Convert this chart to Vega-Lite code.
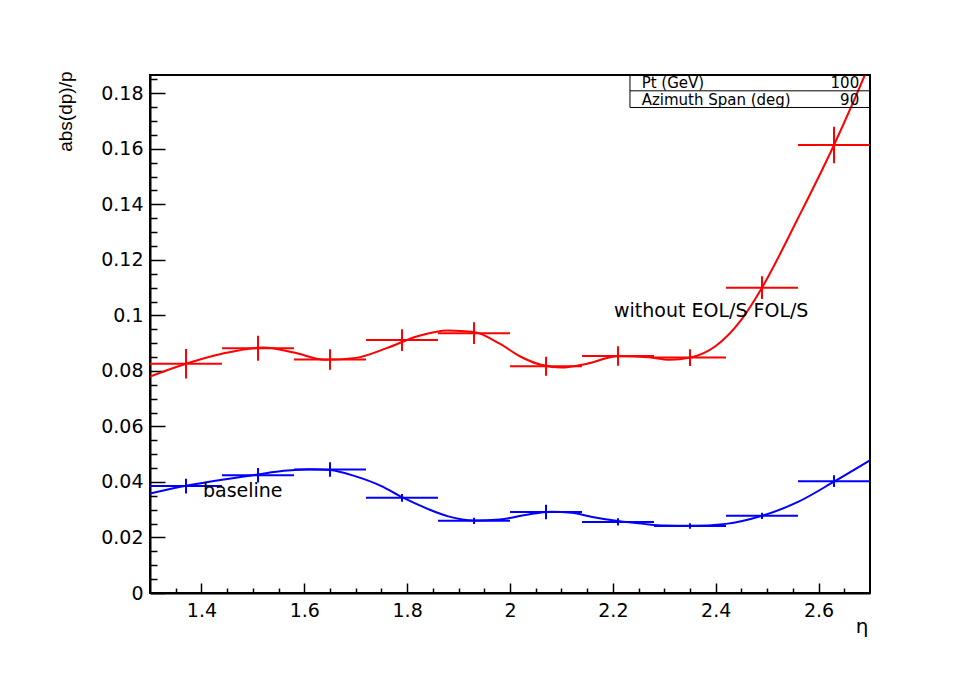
{
  "$schema": "https://vega.github.io/schema/vega-lite/v6.json",
  "width": 720,
  "height": 518,
  "autosize": {"type": "none"},
  "padding": {"left": 150, "top": 75, "right": 85, "bottom": 101},
  "background": "white",
  "datasets": {
    "curves": [
      {"s": "without EOL/S FOL/S", "eta": 1.30, "val": 0.0780},
      {"s": "without EOL/S FOL/S", "eta": 1.37, "val": 0.0826},
      {"s": "without EOL/S FOL/S", "eta": 1.44, "val": 0.0862},
      {"s": "without EOL/S FOL/S", "eta": 1.52, "val": 0.0884},
      {"s": "without EOL/S FOL/S", "eta": 1.58, "val": 0.0866},
      {"s": "without EOL/S FOL/S", "eta": 1.64, "val": 0.0840},
      {"s": "without EOL/S FOL/S", "eta": 1.70, "val": 0.0847},
      {"s": "without EOL/S FOL/S", "eta": 1.76, "val": 0.0882},
      {"s": "without EOL/S FOL/S", "eta": 1.82, "val": 0.0925},
      {"s": "without EOL/S FOL/S", "eta": 1.88, "val": 0.0946},
      {"s": "without EOL/S FOL/S", "eta": 1.93, "val": 0.0940},
      {"s": "without EOL/S FOL/S", "eta": 1.98, "val": 0.0898},
      {"s": "without EOL/S FOL/S", "eta": 2.02, "val": 0.0852},
      {"s": "without EOL/S FOL/S", "eta": 2.06, "val": 0.0822},
      {"s": "without EOL/S FOL/S", "eta": 2.10, "val": 0.0812},
      {"s": "without EOL/S FOL/S", "eta": 2.15, "val": 0.0826},
      {"s": "without EOL/S FOL/S", "eta": 2.21, "val": 0.0853},
      {"s": "without EOL/S FOL/S", "eta": 2.27, "val": 0.0849},
      {"s": "without EOL/S FOL/S", "eta": 2.31, "val": 0.0840},
      {"s": "without EOL/S FOL/S", "eta": 2.35, "val": 0.0848},
      {"s": "without EOL/S FOL/S", "eta": 2.40, "val": 0.0890},
      {"s": "without EOL/S FOL/S", "eta": 2.45, "val": 0.0985},
      {"s": "without EOL/S FOL/S", "eta": 2.49, "val": 0.1100},
      {"s": "without EOL/S FOL/S", "eta": 2.56, "val": 0.1350},
      {"s": "without EOL/S FOL/S", "eta": 2.63, "val": 0.1614},
      {"s": "without EOL/S FOL/S", "eta": 2.69, "val": 0.1866},
      {"s": "without EOL/S FOL/S", "eta": 2.70, "val": 0.1910},
      {"s": "baseline", "eta": 1.30, "val": 0.0358},
      {"s": "baseline", "eta": 1.37, "val": 0.0386},
      {"s": "baseline", "eta": 1.44, "val": 0.0408},
      {"s": "baseline", "eta": 1.51, "val": 0.0427},
      {"s": "baseline", "eta": 1.56, "val": 0.0440},
      {"s": "baseline", "eta": 1.61, "val": 0.0446},
      {"s": "baseline", "eta": 1.65, "val": 0.0443},
      {"s": "baseline", "eta": 1.70, "val": 0.0420},
      {"s": "baseline", "eta": 1.75, "val": 0.0385},
      {"s": "baseline", "eta": 1.79, "val": 0.0345},
      {"s": "baseline", "eta": 1.84, "val": 0.0303},
      {"s": "baseline", "eta": 1.88, "val": 0.0276},
      {"s": "baseline", "eta": 1.93, "val": 0.0261},
      {"s": "baseline", "eta": 1.98, "val": 0.0265},
      {"s": "baseline", "eta": 2.03, "val": 0.0281},
      {"s": "baseline", "eta": 2.08, "val": 0.0293},
      {"s": "baseline", "eta": 2.12, "val": 0.0289},
      {"s": "baseline", "eta": 2.16, "val": 0.0274},
      {"s": "baseline", "eta": 2.21, "val": 0.0259},
      {"s": "baseline", "eta": 2.26, "val": 0.0249},
      {"s": "baseline", "eta": 2.30, "val": 0.0243},
      {"s": "baseline", "eta": 2.35, "val": 0.0242},
      {"s": "baseline", "eta": 2.42, "val": 0.0249},
      {"s": "baseline", "eta": 2.49, "val": 0.0278},
      {"s": "baseline", "eta": 2.56, "val": 0.0328},
      {"s": "baseline", "eta": 2.63, "val": 0.0401},
      {"s": "baseline", "eta": 2.70, "val": 0.0478}
    ],
    "points": [
      {"s": "without EOL/S FOL/S", "eta": 1.37, "lo": 1.30, "hi": 1.44, "val": 0.0826, "elo": 0.0773, "ehi": 0.0879},
      {"s": "without EOL/S FOL/S", "eta": 1.51, "lo": 1.44, "hi": 1.58, "val": 0.0882, "elo": 0.0837, "ehi": 0.0927},
      {"s": "without EOL/S FOL/S", "eta": 1.65, "lo": 1.58, "hi": 1.72, "val": 0.0841, "elo": 0.0804, "ehi": 0.0878},
      {"s": "without EOL/S FOL/S", "eta": 1.79, "lo": 1.72, "hi": 1.86, "val": 0.0911, "elo": 0.0872, "ehi": 0.0950},
      {"s": "without EOL/S FOL/S", "eta": 1.93, "lo": 1.86, "hi": 2.00, "val": 0.0936, "elo": 0.0897, "ehi": 0.0975},
      {"s": "without EOL/S FOL/S", "eta": 2.07, "lo": 2.00, "hi": 2.14, "val": 0.0817, "elo": 0.0783, "ehi": 0.0851},
      {"s": "without EOL/S FOL/S", "eta": 2.21, "lo": 2.14, "hi": 2.28, "val": 0.0854, "elo": 0.0819, "ehi": 0.0889},
      {"s": "without EOL/S FOL/S", "eta": 2.35, "lo": 2.28, "hi": 2.42, "val": 0.0848, "elo": 0.0818, "ehi": 0.0878},
      {"s": "without EOL/S FOL/S", "eta": 2.49, "lo": 2.42, "hi": 2.56, "val": 0.1100, "elo": 0.1059, "ehi": 0.1141},
      {"s": "without EOL/S FOL/S", "eta": 2.63, "lo": 2.56, "hi": 2.70, "val": 0.1614, "elo": 0.1548, "ehi": 0.1680},
      {"s": "baseline", "eta": 1.37, "lo": 1.30, "hi": 1.44, "val": 0.0385, "elo": 0.0358, "ehi": 0.0412},
      {"s": "baseline", "eta": 1.51, "lo": 1.44, "hi": 1.58, "val": 0.0424, "elo": 0.0398, "ehi": 0.0450},
      {"s": "baseline", "eta": 1.65, "lo": 1.58, "hi": 1.72, "val": 0.0445, "elo": 0.0419, "ehi": 0.0471},
      {"s": "baseline", "eta": 1.79, "lo": 1.72, "hi": 1.86, "val": 0.0343, "elo": 0.0329, "ehi": 0.0357},
      {"s": "baseline", "eta": 1.93, "lo": 1.86, "hi": 2.00, "val": 0.0260, "elo": 0.0249, "ehi": 0.0271},
      {"s": "baseline", "eta": 2.07, "lo": 2.00, "hi": 2.14, "val": 0.0292, "elo": 0.0266, "ehi": 0.0318},
      {"s": "baseline", "eta": 2.21, "lo": 2.14, "hi": 2.28, "val": 0.0256, "elo": 0.0243, "ehi": 0.0269},
      {"s": "baseline", "eta": 2.35, "lo": 2.28, "hi": 2.42, "val": 0.0241, "elo": 0.0231, "ehi": 0.0251},
      {"s": "baseline", "eta": 2.49, "lo": 2.42, "hi": 2.56, "val": 0.0278, "elo": 0.0267, "ehi": 0.0289},
      {"s": "baseline", "eta": 2.63, "lo": 2.56, "hi": 2.70, "val": 0.0403, "elo": 0.0382, "ehi": 0.0424}
    ],
    "notes": [
      {"tx": 2.2022, "ty": 0.1016, "label": "without EOL/S FOL/S"},
      {"tx": 1.403, "ty": 0.0368, "label": "baseline"}
    ],
    "box": [
      {"bx1": 2.2333, "bx2": 2.7, "by1": 0.1749, "by2": 0.1866, "div": 0.1809}
    ],
    "boxL": [
      {"tx": 2.256, "ty": 0.1836, "label": "Pt (GeV)"},
      {"tx": 2.256, "ty": 0.1776, "label": "Azimuth Span (deg)"}
    ],
    "boxR": [
      {"tx": 2.679, "ty": 0.1836, "label": "100"},
      {"tx": 2.679, "ty": 0.1776, "label": "90"}
    ]
  },
  "resolve": {"axis": {"x": "independent", "y": "independent"}},
  "layer": [
    {
      "data": {"name": "curves"},
      "mark": {"type": "line", "interpolate": "monotone", "strokeWidth": 2, "clip": true},
      "encoding": {
        "x": {
          "field": "eta", "type": "quantitative", "title": "η",
          "scale": {"domain": [1.3, 2.7], "nice": false, "zero": false},
          "axis": {
            "orient": "bottom",
            "values": [1.4, 1.6, 1.8, 2.0, 2.2, 2.4, 2.6],
            "format": "~g",
            "tickSize": -10,
            "labelPadding": 18,
            "labelFlush": false,
            "labelOverlap": false,
            "labelBound": false,
            "grid": false,
            "titleX": 718,
            "titleY": 39,
            "titleAlign": "right",
            "titleBaseline": "alphabetic",
            "titleFont": "DejaVu Sans",
            "titleFontSize": 20
          }
        },
        "y": {
          "field": "val", "type": "quantitative", "title": "abs(dp)/p",
          "scale": {"domain": [0, 0.1866], "nice": false, "zero": false},
          "axis": {
            "orient": "left",
            "values": [0, 0.02, 0.04, 0.06, 0.08, 0.1, 0.12, 0.14, 0.16, 0.18],
            "format": "~g",
            "tickSize": -15,
            "labelPadding": 22,
            "labelFlush": false,
            "labelOverlap": false,
            "labelBound": false,
            "grid": false,
            "titleAngle": -90,
            "titleX": -79,
            "titleY": -4,
            "titleAlign": "right",
            "titleBaseline": "alphabetic",
            "titleFont": "Liberation Sans",
            "titleFontSize": 19
          }
        },
        "color": {
          "field": "s", "type": "nominal",
          "scale": {"domain": ["without EOL/S FOL/S", "baseline"], "range": ["#ff0000", "#0000ff"]},
          "legend": null
        }
      }
    },
    {
      "data": {"name": "points"},
      "mark": {"type": "rule", "strokeWidth": 2},
      "encoding": {
        "x": {
          "field": "lo", "type": "quantitative",
          "axis": {
            "orient": "bottom",
            "values": [1.35,1.45,1.5,1.55,1.65,1.7,1.75,1.85,1.9,1.95,2.05,2.1,2.15,2.25,2.3,2.35,2.45,2.5,2.55,2.65],
            "tickSize": -5,
            "labels": false,
            "domain": false,
            "grid": false,
            "title": null
          }
        },
        "x2": {"field": "hi"},
        "y": {
          "field": "val", "type": "quantitative",
          "axis": {
            "orient": "left",
            "values": [0.005,0.01,0.015,0.025,0.03,0.035,0.045,0.05,0.055,0.065,0.07,0.075,0.085,0.09,0.095,0.105,0.11,0.115,0.125,0.13,0.135,0.145,0.15,0.155,0.165,0.17,0.175,0.185],
            "tickSize": -7,
            "labels": false,
            "domain": false,
            "grid": false,
            "title": null
          }
        },
        "color": {"field": "s", "type": "nominal", "legend": null}
      }
    },
    {
      "data": {"name": "points"},
      "mark": {"type": "rule", "strokeWidth": 2},
      "encoding": {
        "x": {"field": "eta", "type": "quantitative", "axis": null},
        "y": {"field": "elo", "type": "quantitative", "axis": null},
        "y2": {"field": "ehi"},
        "color": {"field": "s", "type": "nominal", "legend": null}
      }
    },
    {
      "data": {"name": "box"},
      "mark": {"type": "rect", "fill": null, "fillOpacity": 0, "stroke": "black", "strokeWidth": 1},
      "encoding": {
        "x": {"field": "bx1", "type": "quantitative", "axis": null},
        "x2": {"field": "bx2"},
        "y": {"field": "by1", "type": "quantitative", "axis": null},
        "y2": {"field": "by2"}
      }
    },
    {
      "data": {"name": "box"},
      "mark": {"type": "rule", "color": "black", "strokeWidth": 1},
      "encoding": {
        "x": {"field": "bx1", "type": "quantitative", "axis": null},
        "x2": {"field": "bx2"},
        "y": {"field": "div", "type": "quantitative", "axis": null}
      }
    },
    {
      "data": {"name": "boxL"},
      "mark": {"type": "text", "align": "left", "baseline": "middle", "font": "DejaVu Sans", "fontSize": 15, "color": "black"},
      "encoding": {
        "x": {"field": "tx", "type": "quantitative", "axis": null},
        "y": {"field": "ty", "type": "quantitative", "axis": null},
        "text": {"field": "label"}
      }
    },
    {
      "data": {"name": "boxR"},
      "mark": {"type": "text", "align": "right", "baseline": "middle", "font": "DejaVu Sans", "fontSize": 15, "color": "black"},
      "encoding": {
        "x": {"field": "tx", "type": "quantitative", "axis": null},
        "y": {"field": "ty", "type": "quantitative", "axis": null},
        "text": {"field": "label"}
      }
    },
    {
      "data": {"name": "notes"},
      "mark": {"type": "text", "align": "left", "baseline": "middle", "font": "DejaVu Sans", "fontSize": 19, "color": "black"},
      "encoding": {
        "x": {"field": "tx", "type": "quantitative", "axis": null},
        "y": {"field": "ty", "type": "quantitative", "axis": null},
        "text": {"field": "label"}
      }
    }
  ],
  "config": {
    "view": {"stroke": "black", "strokeWidth": 2},
    "axis": {
      "domainColor": "black",
      "domainWidth": 2,
      "tickColor": "black",
      "tickWidth": 1.5,
      "labelFont": "DejaVu Sans",
      "labelFontSize": 19,
      "labelColor": "black",
      "titleColor": "black",
      "titleFontWeight": "normal"
    }
  }
}
